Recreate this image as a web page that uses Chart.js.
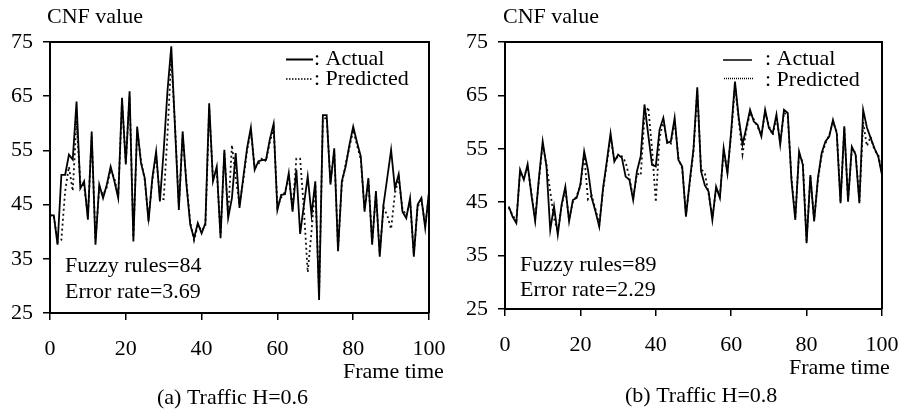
<!DOCTYPE html>
<html>
<head>
<meta charset="utf-8">
<script src="https://cdn.jsdelivr.net/npm/chart.js@4.4.1/dist/chart.umd.min.js"></script>
<style>
  html, body { margin: 0; padding: 0; background: #fff; }
  #wrap { position: relative; width: 900px; height: 418px; }
  canvas { position: absolute; top: 0; }
  #cnfA { left: 0; }
  #cnfB { left: 450px; }
</style>
</head>
<body>
<div id="wrap">
  <canvas id="cnfA" width="450" height="418"></canvas>
  <canvas id="cnfB" width="450" height="418"></canvas>
</div>
<script>
const yTicks = [25, 35, 45, 55, 65, 75];
const xTicks = [0, 20, 40, 60, 80, 100];

// (a) Traffic H=0.6, frames 0..100
const actualA = [
  43, 43, 37.6, 50.5, 50.5, 54.2, 53.3, 64, 48, 49.3,
  42.2, 58.5, 37.6, 48.7, 46.2, 48.7, 52, 49.3, 46.2, 64.7,
  52.4, 65.9, 38.2, 59.4, 52.7, 49.9, 41.9, 49.9, 54.8, 45.6,
  55, 66, 74.2, 59, 44, 58.5, 48.7, 41.3, 38.8, 41.6,
  39.7, 41.6, 63.7, 49.3, 52, 38.8, 55.1, 42.5, 46.2, 54.5,
  44.4, 50, 55.4, 59.2, 51.4, 53, 53.2, 53.3, 57, 59.9,
  44, 46.8, 46.9, 50.8, 43.7, 51.4, 39.6, 45, 50.2, 43.1,
  49.3, 27.4, 61.5, 61.5, 48.7, 55.4, 36.4, 49.3, 52, 56,
  59.4, 56.5, 53.9, 43.7, 49.9, 37.6, 47.5, 35.4, 45, 50,
  55.1, 48, 50.6, 43.7, 42.5, 46.2, 35.4, 45, 46.2, 40.7,
  47.4
];
const predictedA = [
  43, 43, 38, 38.5, 47.5, 52, 47.5, 60.5, 49, 48.5,
  43, 57.5, 38.5, 48, 46.8, 48.2, 51.5, 49.8, 46.5, 63.8,
  52.8, 65, 39, 58.8, 53.2, 49.5, 42.5, 49.4, 54.2, 46.2,
  46, 58, 72, 59.5, 44.8, 57.8, 49.2, 41.8, 38.4, 41.2,
  40.2, 41, 62.8, 49.8, 51.5, 39.5, 54.5, 43, 56, 50,
  45, 49.5, 55, 58.6, 51.8, 52.5, 53.6, 53, 56.5, 59.2,
  44.6, 46.3, 47.3, 50.2, 44.2, 53.5, 53.5, 44, 32.5, 40,
  48.8, 28.5, 60.8, 61, 49.2, 54.8, 37, 48.8, 52.5, 55.5,
  58.8, 56, 53.3, 44.3, 49.4, 38.2, 47, 36, 44.5, 43,
  40.5, 47, 50, 44.2, 43, 45.7, 36, 44.6, 45.8, 41.2,
  47
];

// (b) Traffic H=0.8, frames 1..100
const actualB = [
  44.2, 42.3, 41.1, 51.1, 49.2, 52.1, 46.4, 41.5, 49.5, 56.4,
  51.7, 39.8, 44.2, 38.9, 44.5, 47.9, 41.4, 45.4, 45.8, 48.3,
  54.5, 51.1, 45.8, 43.3, 40.4, 47.6, 52.6, 57.9, 52.6, 53.9,
  53.3, 49.8, 49.2, 45.4, 50.8, 53.6, 63.3, 57.6, 52, 51.7,
  58.6, 60.8, 56.1, 56.4, 60.8, 52.9, 51.7, 42.3, 48.9, 55,
  66.5, 50.8, 48.2, 47, 41.7, 47.9, 45.8, 55.1, 50.4, 58.3,
  67.6, 60.8, 55.8, 58.9, 62.3, 60.1, 59.5, 57.3, 62.3, 58.9,
  57.9, 61.4, 55.8, 62.3, 61.7, 49, 41.7, 54.5, 52, 37.3,
  50.1, 41.4, 49.5, 54.2, 56.4, 57.3, 60.4, 57.9, 44.8, 59.2,
  45.1, 55.4, 53.9, 44.8, 62.3, 59, 57, 55.1, 53.6, 50.1
];
const predictedB = [
  44, 42.6, 41.5, 50.6, 49.6, 51.7, 46.8, 41.9, 49.1, 55.8,
  52, 47, 42, 39.4, 44.1, 47.5, 41.8, 45, 46.2, 48,
  54, 45.5, 46.2, 43.7, 40.8, 47.2, 52.2, 57.2, 53, 53.5,
  53.6, 52.5, 49.6, 45.8, 50.4, 50, 61, 62.8, 55, 45,
  57, 60.3, 56.5, 56, 60.2, 53.3, 51.3, 42.8, 48.5, 54.6,
  65.8, 51.2, 50.5, 46.6, 42.2, 47.5, 46.2, 54.6, 50.8, 57.8,
  66.8, 60.4, 54, 58.5, 61.8, 60.5, 59.1, 57.7, 61.8, 59.3,
  57.5, 61, 56.2, 61.8, 61.2, 49.4, 42.2, 54, 52.5, 37.8,
  49.7, 41.8, 49.1, 53.8, 56, 57.6, 60, 58.2, 45.2, 58.8,
  45.5, 55, 54.2, 45.2, 60, 55.5, 57.3, 54.7, 53.9, 50.4
];

const framesA = actualA.map((v, i) => i);
const framesB = actualB.map((v, i) => i + 1);

Chart.defaults.font = { family: '"Liberation Serif", "Times New Roman", serif', size: 22 };
Chart.defaults.color = '#000';

// Frame box, legend keys and free-standing labels for each panel.
const panelDecor = {
  id: 'panelDecor',
  afterDraw(chart, args, o) {
    const { ctx, chartArea: a } = chart;
    ctx.save();
    ctx.strokeStyle = '#000';
    ctx.lineWidth = 2;
    ctx.beginPath();
    ctx.moveTo(a.left, a.top);
    ctx.lineTo(a.right, a.top);
    ctx.lineTo(a.right, a.bottom);
    ctx.stroke();

    o.keys.forEach(k => {
      ctx.setLineDash(k.dash);
      ctx.lineWidth = k.width;
      ctx.beginPath();
      ctx.moveTo(k.x0, k.y);
      ctx.lineTo(k.x1, k.y);
      ctx.stroke();
    });
    ctx.setLineDash([]);

    ctx.font = '22px "Liberation Serif", serif';
    ctx.fillStyle = '#000';
    ctx.textAlign = 'left';
    ctx.textBaseline = 'alphabetic';
    o.texts.forEach(t => ctx.fillText(t.text, t.x, t.y));
    ctx.restore();
  }
};

function points(frames, values) {
  return frames.map((f, i) => ({ x: f, y: values[i] }));
}

function panel(id, frames, actual, predicted, yWidth, pad, deco) {
  new Chart(document.getElementById(id), {
    type: 'line',
    data: {
      datasets: [
        { label: 'Actual', data: points(frames, actual), borderColor: '#000', borderWidth: 1.8, pointRadius: 0, tension: 0, order: 0 },
        { label: 'Predicted', data: points(frames, predicted), borderColor: '#111', borderWidth: 1.8, borderDash: [2, 3], pointRadius: 0, tension: 0, order: 1 },
      ],
    },
    options: {
      responsive: false,
      animation: false,
      events: [],
      layout: { padding: pad },
      plugins: { legend: { display: false }, tooltip: { enabled: false }, panelDecor: deco },
      scales: {
        x: {
          type: 'linear', min: 0, max: 100,
          afterBuildTicks: (s) => { s.ticks = xTicks.map((v) => ({ value: v })); },
          afterFit: (s) => { s.height = 55; s.paddingLeft = 0; s.paddingRight = 0; },
          grid: { drawOnChartArea: false, tickLength: 7, color: '#000', lineWidth: 1.5 },
          border: { color: '#000', width: 2 },
          ticks: { padding: 16, maxRotation: 0, autoSkip: false },
        },
        y: {
          min: 25, max: 75,
          afterBuildTicks: (s) => { s.ticks = yTicks.map((v) => ({ value: v })); },
          afterFit: (s) => { s.width = yWidth; s.paddingTop = 0; s.paddingBottom = 0; },
          grid: { drawOnChartArea: false, tickLength: 7, color: '#000', lineWidth: 1.5 },
          border: { color: '#000', width: 2 },
          ticks: { padding: 10 },
        },
      },
    },
    plugins: [panelDecor],
  });
}

panel('cnfA', framesA, actualA, predictedA, 50, { left: 0, right: 21, top: 42, bottom: 50 }, {
  keys: [
    { x0: 286, x1: 313, y: 59.5, width: 2, dash: [] },
    { x0: 286, x1: 312, y: 79, width: 1.5, dash: [1.5, 1.5] },
  ],
  texts: [
    { text: 'CNF value', x: 47, y: 23 },
    { text: ': Actual', x: 314, y: 65 },
    { text: ': Predicted', x: 314, y: 85 },
    { text: 'Fuzzy rules=84', x: 65, y: 272 },
    { text: 'Error rate=3.69', x: 65, y: 297.5 },
    { text: 'Frame time', x: 343, y: 378 },
    { text: '(a) Traffic H=0.6', x: 157, y: 404 },
  ],
});

panel('cnfB', framesB, actualB, predictedB, 55, { left: 0, right: 18, top: 42, bottom: 54 }, {
  keys: [
    { x0: 273, x1: 302, y: 60, width: 1.5, dash: [] },
    { x0: 274, x1: 303, y: 78.5, width: 1.5, dash: [1, 1] },
  ],
  texts: [
    { text: 'CNF value', x: 53, y: 23 },
    { text: ': Actual', x: 315, y: 65 },
    { text: ': Predicted', x: 315, y: 86 },
    { text: 'Fuzzy rules=89', x: 70, y: 271 },
    { text: 'Error rate=2.29', x: 70, y: 296 },
    { text: 'Frame time', x: 339, y: 373.5 },
    { text: '(b) Traffic H=0.8', x: 175, y: 402 },
  ],
});
</script>
</body>
</html>
